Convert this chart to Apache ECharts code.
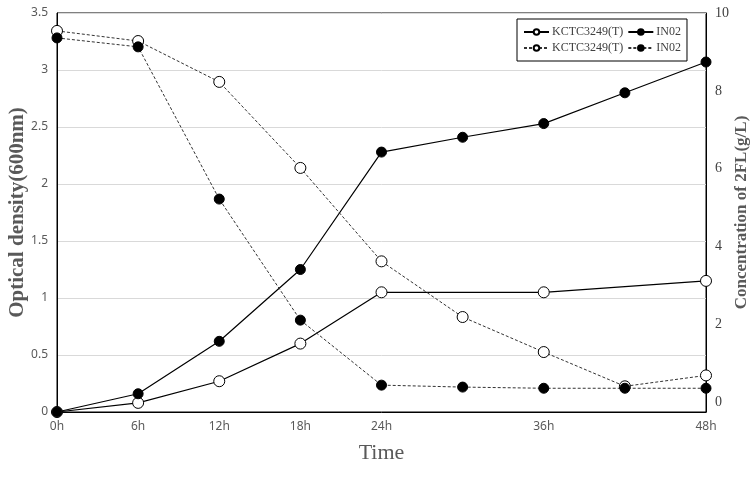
<!DOCTYPE html>
<html>
<head>
<meta charset="utf-8">
<script src="https://cdn.jsdelivr.net/npm/echarts@6/dist/echarts.min.js"></script>
<style>html,body{margin:0;padding:0;background:#fff;}#c{width:753px;height:482px;}</style>
</head>
<body>
<div id="c"></div>
<script>
// Data
var hoursShort = [0, 6, 12, 18, 24, 36, 48];
var hoursFull = [0, 6, 12, 18, 24, 30, 36, 42, 48];
var labeledHours = [0, 6, 12, 18, 24, 36, 48];
var odKCTC = [0, 0.08, 0.27, 0.60, 1.05, 1.05, 1.15];
var odIN02 = [0, 0.16, 0.62, 1.25, 2.28, 2.41, 2.53, 2.80, 3.07];
var concKCTC = [9.54, 9.28, 8.23, 6.02, 3.62, 2.19, 1.29, 0.41, 0.69];
var concIN02 = [9.36, 9.13, 5.22, 2.11, 0.44, 0.39, 0.36, 0.36, 0.36];
var seriesNames = ['KCTC3249(T)', 'IN02', 'KCTC3249(T) ', 'IN02 '];

function pairs(xs, ys) { return xs.map(function (x, i) { return [x, ys[i]]; }); }

var chart = echarts.init(document.getElementById('c'));
var serif = '"Liberation Serif","DejaVu Serif",serif';
var openItem = { color: '#fff', borderColor: '#000', borderWidth: 1 };
var fillItem = { color: '#000', borderColor: '#000', borderWidth: 1 };
chart.setOption({
  animation: false,
  backgroundColor: '#fff',
  grid: { left: 57, right: 47, top: 13, bottom: 70, show: true, borderColor: '#000', borderWidth: 1,
    containLabel: false, outerBoundsMode: 'none' },
  legend: {
    data: seriesNames,
    left: 517, top: 19, width: 200,
    orient: 'horizontal',
    padding: [7, 6],
    itemGap: 4,
    itemWidth: 25, itemHeight: 7,
    borderColor: '#000', borderWidth: 1, backgroundColor: '#fff',
    formatter: function (n) { return n.trim(); },
    textStyle: { fontFamily: serif, fontSize: 12, color: '#404040', padding: [0, 0, 0, -2] }
  },
  xAxis: {
    type: 'value', min: 0, max: 48, interval: 6,
    name: 'Time', nameLocation: 'middle', nameGap: 30, nameMoveOverlap: false,
    nameTextStyle: { fontFamily: serif, fontSize: 22, color: '#595959' },
    axisLine: { lineStyle: { color: '#000' } },
    axisTick: { show: false },
    splitLine: { show: false },
    axisLabel: { color: '#595959', fontSize: 12, fontFamily: '"Noto Sans",sans-serif', margin: 9,
      formatter: function (v) { return labeledHours.indexOf(v) >= 0 ? v + 'h' : ''; } }
  },
  yAxis: [{
    type: 'value', min: 0, max: 3.5, interval: 0.5,
    name: 'Optical density(600nm)', nameLocation: 'middle', nameGap: 29, nameMoveOverlap: false,
    nameTextStyle: { fontFamily: serif, fontSize: 21, fontWeight: 'bold', color: '#595959' },
    axisLine: { show: true, lineStyle: { color: '#000' } },
    axisTick: { show: false },
    splitLine: { show: true, lineStyle: { color: '#d9d9d9' } },
    axisLabel: { color: '#595959', fontSize: 12, fontFamily: '"Noto Sans",sans-serif', margin: 9 }
  }, {
    type: 'value', min: -0.25, max: 10, splitNumber: 5,
    name: 'Concentration of 2FL(g/L)', nameLocation: 'middle', nameGap: 27, nameMoveOverlap: false,
    nameTextStyle: { fontFamily: serif, fontSize: 17, fontWeight: 'bold', color: '#595959' },
    axisLine: { show: true, lineStyle: { color: '#000' } },
    axisTick: { show: false },
    splitLine: { show: false },
    axisLabel: { color: '#404040', fontSize: 14, fontFamily: serif, margin: 9,
      formatter: function (v) { return (Math.abs(v % 2) < 1e-9) ? String(v) : ''; } }
  }],
  series: [{
    name: seriesNames[0], type: 'line', yAxisIndex: 0,
    data: pairs(hoursShort, odKCTC),
    symbol: 'circle', symbolSize: 11, itemStyle: openItem,
    lineStyle: { color: '#000', width: 1.2 }
  }, {
    name: seriesNames[1], type: 'line', yAxisIndex: 0,
    data: pairs(hoursFull, odIN02),
    symbol: 'circle', symbolSize: 10, itemStyle: fillItem,
    lineStyle: { color: '#000', width: 1.2 }
  }, {
    name: seriesNames[2], type: 'line', yAxisIndex: 1,
    data: pairs(hoursFull, concKCTC),
    symbol: 'circle', symbolSize: 11, itemStyle: openItem,
    lineStyle: { color: '#333', width: 1, type: [3, 2] }
  }, {
    name: seriesNames[3], type: 'line', yAxisIndex: 1,
    data: pairs(hoursFull, concIN02),
    symbol: 'circle', symbolSize: 10, itemStyle: fillItem,
    lineStyle: { color: '#333', width: 1, type: [3, 2] }
  }]
});
</script>
</body>
</html>
